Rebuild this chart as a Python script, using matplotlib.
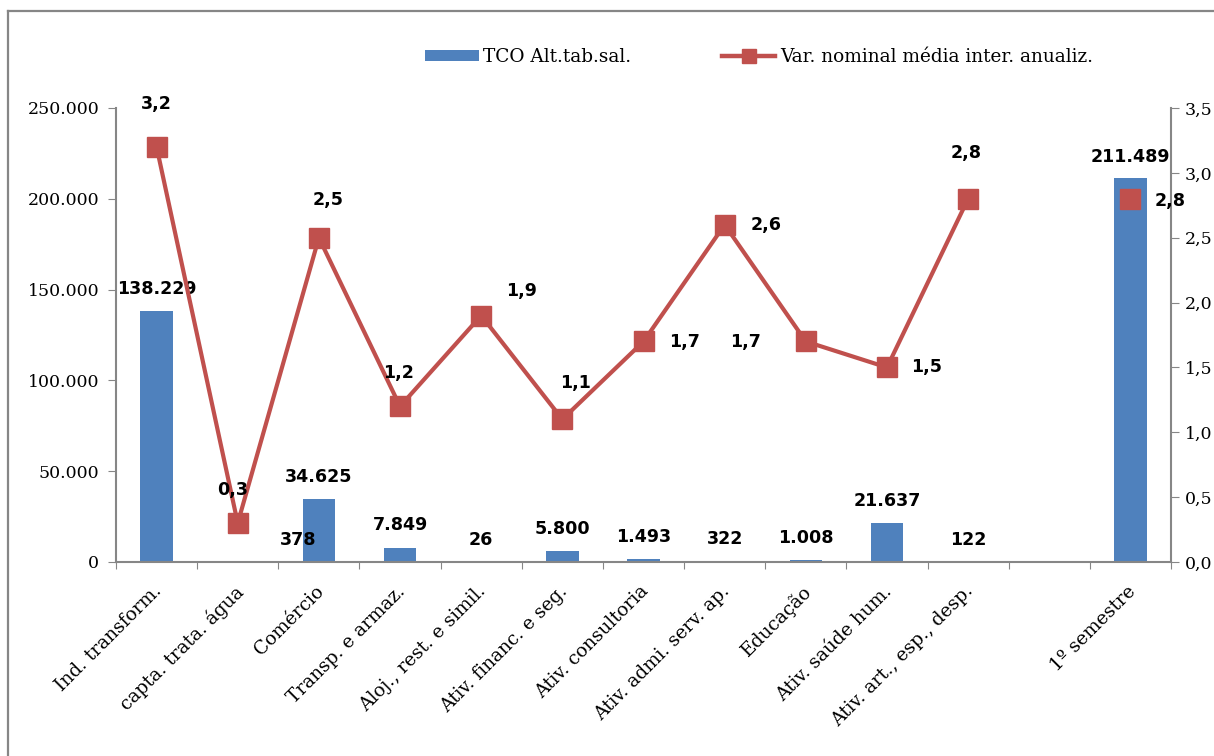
import numpy as np
import matplotlib
matplotlib.use("Agg")
import matplotlib.pyplot as plt
from matplotlib.lines import Line2D
from matplotlib.patches import Patch

categories = ["Ind. transform.", "capta. trata. água", "Comércio", "Transp. e armaz.",
              "Aloj., rest. e simil.", "Ativ. financ. e seg.", "Ativ. consultoria",
              "Ativ. admi. serv. ap.", "Educação", "Ativ. saúde hum.",
              "Ativ. art., esp., desp.", "", "1º semestre"]
tco = [138229, 378, 34625, 7849, 26, 5800, 1493, 322, 1008, 21637, 122, np.nan, 211489]
var_nominal = [3.2, 0.3, 2.5, 1.2, 1.9, 1.1, 1.7, 2.6, 1.7, 1.5, 2.8, np.nan, 2.8]

tco_labels = ["138.229", "378", "34.625", "7.849", "26", "5.800", "1.493", "322",
              "1.008", "21.637", "122", "", "211.489"]
var_labels = ["3,2", "0,3", "2,5", "1,2", "1,9", "1,1", "1,7", "2,6", "1,7", "1,5",
              "2,8", "", "2,8"]

# label offsets in pixels relative to the mark
tco_offsets = [(0, 22), (60, 21), (0, 22), (0, 23), (0, 22), (0, 22), (0, 22),
               (0, 22), (0, 22), (0, 22), (0, 22), (0, 0), (0, 21)]
var_offsets = [(0, 43), (-5, 33), (9, 38), (-2, 33), (40, 25), (13, 36), (41, -1),
               (41, 0), (-60, -1), (40, 0), (-2, 46), (0, 0), (40, -2)]

BLUE = "#4F81BD"
RED = "#C0504D"
GRAY = "#868686"
SERIF = "DejaVu Serif"

fig = plt.figure(figsize=(12.14, 7.56), dpi=100)
W, H = 1214, 756

# outer chart frame (top and left edges)
fig.add_artist(Line2D([8 / W, 8 / W], [0, 1 - 11 / H], transform=fig.transFigure,
                      color=GRAY, lw=1.6))
fig.add_artist(Line2D([8 / W, 1], [1 - 11 / H, 1 - 11 / H], transform=fig.transFigure,
                      color=GRAY, lw=1.6))

ax = fig.add_axes([116 / W, 1 - 562 / H, (1171 - 116) / W, (562 - 108) / H])
ax2 = ax.twinx()

x = np.arange(len(categories))
ax.bar(x, tco, width=0.4, color=BLUE, zorder=2)
ax.set_xlim(-0.5, len(categories) - 0.5)
ax.set_ylim(0, 250000)
ax.set_yticks(np.arange(0, 250001, 50000))
ax.set_yticklabels(["0", "50.000", "100.000", "150.000", "200.000", "250.000"],
                   family=SERIF, fontsize=12.5)

ax.set_xticks(np.arange(-0.5, len(categories), 1.0))
ax.set_xticklabels([])
ax.tick_params(axis="x", length=5, color=GRAY, direction="out")
ax.tick_params(axis="y", length=6, color=GRAY, direction="out", pad=6)
for i, lab in enumerate(categories):
    if lab:
        ax.annotate(lab, xy=(i, 0), xycoords=("data", "axes fraction"),
                    xytext=(-4, -20), textcoords="offset pixels",
                    rotation=45, ha="right", va="top", rotation_mode="anchor",
                    family=SERIF, fontsize=13.4)

ax.spines["top"].set_visible(False)
ax2.spines["top"].set_visible(False)
ax.spines["right"].set_visible(False)
ax.spines["left"].set_color(GRAY)
ax.spines["bottom"].set_color(GRAY)
ax2.spines["left"].set_visible(False)
ax2.spines["bottom"].set_visible(False)
ax2.spines["right"].set_color(GRAY)
ax.spines["left"].set_linewidth(1.5)
ax.spines["bottom"].set_linewidth(1.5)
ax2.spines["right"].set_linewidth(1.5)

ax2.plot(x, var_nominal, color=RED, lw=3.0, marker="s", markersize=14,
         markerfacecolor=RED, markeredgecolor=RED, zorder=3)
ax2.set_ylim(0, 3.5)
ax2.set_yticks(np.arange(0, 3.51, 0.5))
ax2.set_yticklabels([f"{v:.1f}".replace(".", ",") for v in np.arange(0, 3.51, 0.5)],
                    family=SERIF, fontsize=12.5)
ax2.tick_params(axis="y", length=6, color=GRAY, direction="out", pad=4)

for i, (v, lab) in enumerate(zip(tco, tco_labels)):
    if lab:
        dx, dy = tco_offsets[i]
        ax.annotate(lab, xy=(i, v), xytext=(dx, dy), textcoords="offset pixels",
                    ha="center", va="center", fontsize=12.6, fontweight="bold",
                    family="DejaVu Sans", zorder=5)
for i, (v, lab) in enumerate(zip(var_nominal, var_labels)):
    if lab:
        dx, dy = var_offsets[i]
        ax2.annotate(lab, xy=(i, v), xytext=(dx, dy), textcoords="offset pixels",
                     ha="center", va="center", fontsize=12.6, fontweight="bold",
                     family="DejaVu Sans", zorder=5)

handles = [Patch(facecolor=BLUE, edgecolor="none"),
           Line2D([], [], color=RED, lw=3.2, marker="s", markersize=10)]
fig.legend(handles, ["TCO Alt.tab.sal.", "Var. nominal média inter. anualiz."],
           loc="center", bbox_to_anchor=(759 / W, 1 - 57 / H), ncol=2, frameon=False,
           prop={"family": SERIF, "size": 13.3}, handlelength=2.9, handleheight=0.55,
           columnspacing=4.9, handletextpad=0.25)

fig.savefig("out.png", dpi=100)
